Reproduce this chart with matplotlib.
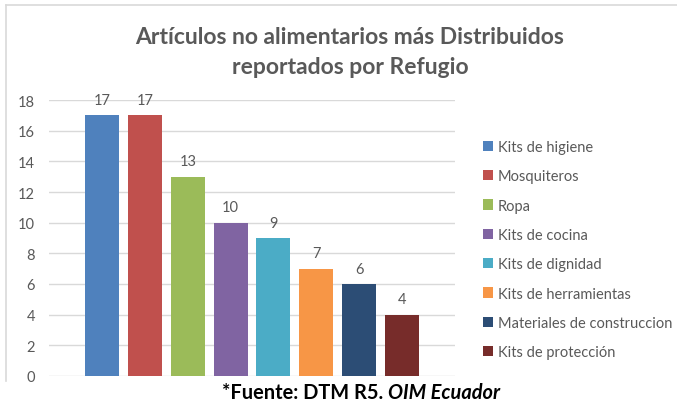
import matplotlib.pyplot as plt
from matplotlib.patches import Patch
from matplotlib.lines import Line2D

# datos del grafico
articulos = ['Kits de higiene', 'Mosquiteros', 'Ropa', 'Kits de cocina',
             'Kits de dignidad', 'Kits de herramientas',
             'Materiales de construccion', 'Kits de protección']
cantidades = [17, 17, 13, 10, 9, 7, 6, 4]
colores = ['#4F81BD', '#C0504D', '#9BBB59', '#8064A2',
           '#4BACC6', '#F79646', '#2C4D75', '#772C2A']

plt.rcParams['font.family'] = ['Lato', 'DejaVu Sans']
gris = '#595959'

W, H = 677, 406
fig = plt.figure(figsize=(W / 100, H / 100), dpi=100)
ax = fig.add_axes([49 / W, 1 - 377 / H, 406 / W, 276 / H])

x = list(range(len(cantidades)))
bars = ax.bar(x, cantidades, width=0.79, color=colores, zorder=3)
for b, v in zip(bars, cantidades):
    ax.annotate(str(v), (b.get_x() + b.get_width() / 2, v), xytext=(0, 6),
                textcoords='offset points', ha='center', va='bottom',
                fontsize=10.5, color=gris)

ax.set_xlim(-1.24, 8.24)
ax.set_ylim(0, 18)
ax.set_yticks(range(0, 19, 2))
ax.set_xticks([])
ax.grid(axis='y', color='#d9d9d9', linewidth=1, zorder=0)
for s in ax.spines.values():
    s.set_visible(False)
ax.tick_params(axis='y', length=0, labelsize=10.5, labelcolor=gris, pad=10)

# titulo
fig.text(350 / W, 1 - 37 / H, 'Artículos no alimentarios más Distribuidos',
         ha='center', va='center', fontsize=16.5, fontweight='bold', color=gris)
fig.text(350 / W, 1 - 68 / H, 'reportados por Refugio',
         ha='center', va='center', fontsize=16.5, fontweight='bold', color=gris)

# leyenda
handles = [Patch(facecolor=c) for c in colores]
ax.legend(handles, articulos, loc='upper left',
          bbox_to_anchor=(483 / W, 1 - 141 / H), bbox_transform=fig.transFigure,
          frameon=False, fontsize=10.5, handlelength=0.7, handleheight=0.7,
          handletextpad=0.3, labelspacing=1.05, borderpad=0, borderaxespad=0,
          labelcolor=gris)

# borde parcial del area del grafico
fig.add_artist(Line2D([6 / W, 1], [1 - 6 / H, 1 - 6 / H], color='#d9d9d9', lw=1.2))
fig.add_artist(Line2D([6 / W, 6 / W], [1 - 6 / H, 1 - 382 / H], color='#d9d9d9', lw=1.2))

# fuente
t1 = fig.text(222 / W, 1 - 393 / H, '*Fuente: DTM R5. ', ha='left', va='center',
              fontsize=14.4, fontweight='bold', color='black')
ax.annotate('OIM Ecuador', xy=(1, 0.5), xycoords=t1, ha='left', va='center',
            fontsize=14.4, fontweight='bold', fontstyle='italic', color='black')

fig.savefig('out.png', dpi=100)
